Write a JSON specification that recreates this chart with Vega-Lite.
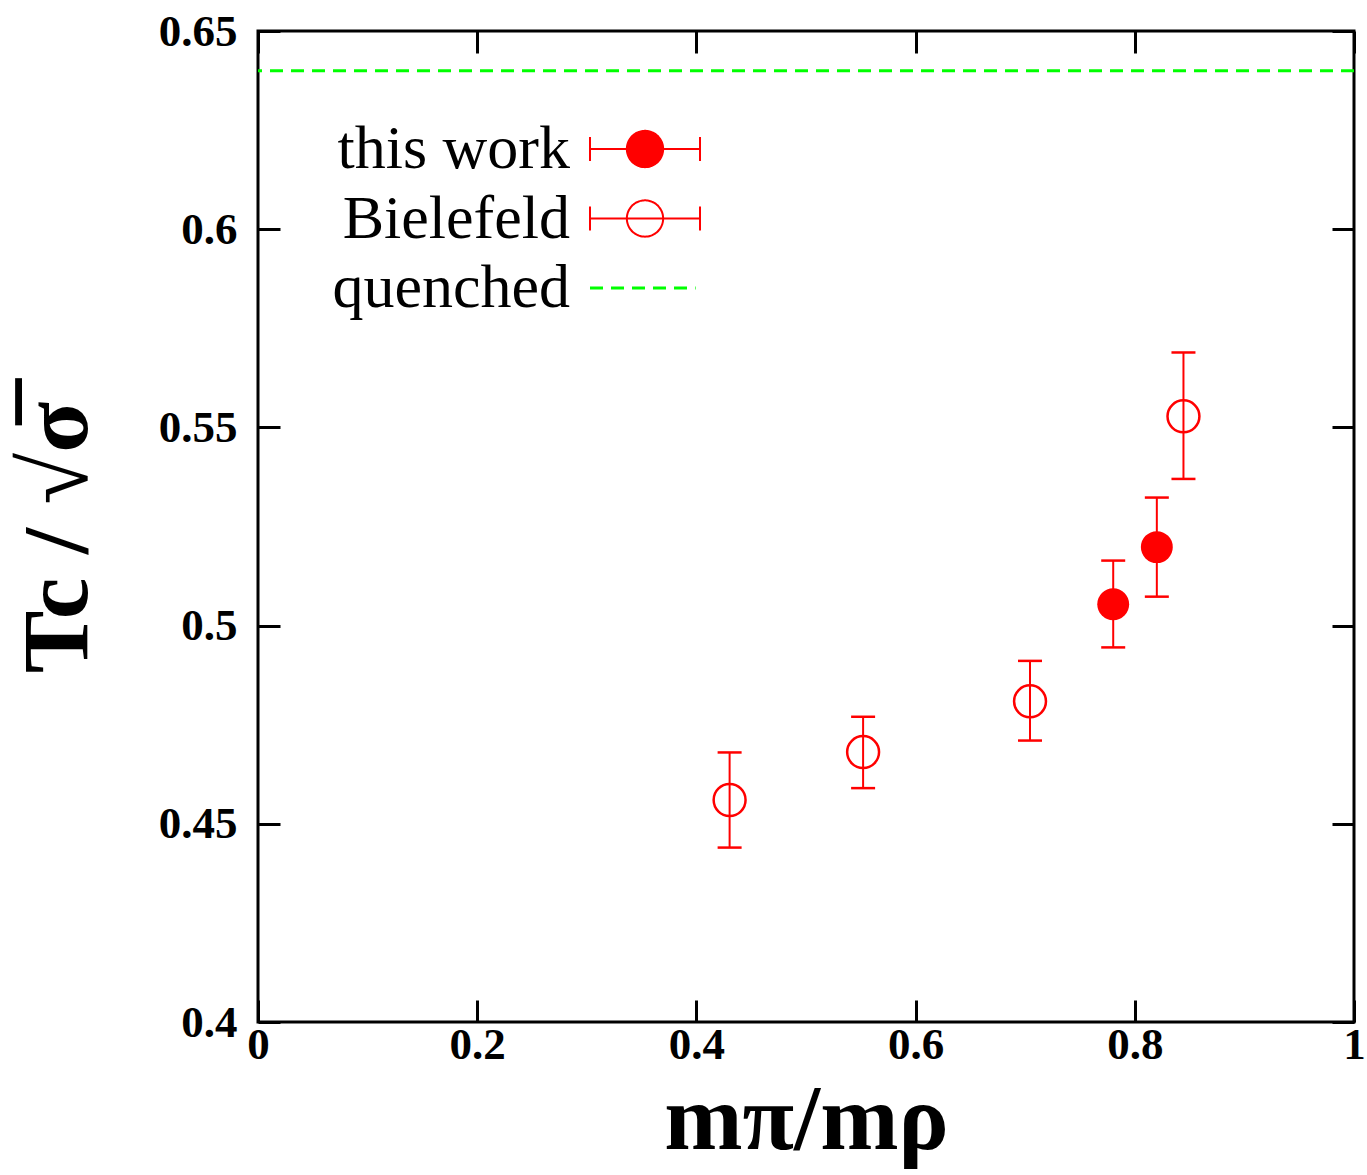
{
  "$schema": "https://vega.github.io/schema/vega-lite/v6.json",
  "autosize": "none",
  "width": 1096,
  "height": 991,
  "padding": {"left": 258, "top": 31, "right": 13, "bottom": 153},
  "background": "white",
  "config": {
    "view": {"stroke": "black", "strokeWidth": 3},
    "axis": {
      "grid": false,
      "domain": false,
      "tickColor": "black",
      "tickWidth": 3,
      "tickSize": -22,
      "labelFlush": false,
      "labelFont": "Liberation Serif",
      "labelFontWeight": "bold",
      "labelFontSize": 45,
      "labelColor": "black",
      "titleFont": "Liberation Serif",
      "titleFontWeight": "bold",
      "titleFontSize": 94,
      "titleColor": "black"
    }
  },
  "datasets": {
    "points": [
      {"series": "this work", "x": 0.7803, "y": 0.5054, "lo": 0.4945, "hi": 0.5164},
      {"series": "this work", "x": 0.8201, "y": 0.5198, "lo": 0.5073, "hi": 0.5323},
      {"series": "Bielefeld", "x": 0.4303, "y": 0.4560, "lo": 0.4440, "hi": 0.4680},
      {"series": "Bielefeld", "x": 0.5521, "y": 0.4681, "lo": 0.4590, "hi": 0.4770},
      {"series": "Bielefeld", "x": 0.7044, "y": 0.4809, "lo": 0.4710, "hi": 0.4911},
      {"series": "Bielefeld", "x": 0.8444, "y": 0.5528, "lo": 0.5370, "hi": 0.5689}
    ],
    "quenched": [
      {"series": "quenched", "y": 0.64}
    ]
  },
  "layer": [
    {
      "data": {"name": "quenched"},
      "mark": {"type": "rule", "strokeWidth": 3, "strokeDash": [13, 8]},
      "encoding": {
        "y": {
          "field": "y", "type": "quantitative",
          "scale": {"domain": [0.4, 0.65], "nice": false, "zero": false},
          "axis": null
        },
        "color": {
          "field": "series", "type": "nominal",
          "scale": {"domain": ["this work", "Bielefeld", "quenched"], "range": ["#ff0000", "#ff0000", "#00ff00"]},
          "legend": {
            "orient": "none",
            "legendX": 356,
            "legendY": 87,
            "padding": 0,
            "title": null,
            "symbolSize": 12100,
            "rowPadding": 7.5,
            "labelAlign": "right",
            "labelOffset": -106,
            "labelFont": "Liberation Serif",
            "labelFontSize": 62,
            "labelColor": "black",
            "labelLimit": 0,
            "encode": {
              "symbols": {
                "update": {
                  "shape": {"signal": "datum.label === 'quenched' ? 'M-1,0L0.92,0' : 'M-1,0L1,0M-1,-0.22L-1,0.22M1,-0.22L1,0.22M-0.33,0A0.33,0.33 0 1,1 0.33,0A0.33,0.33 0 1,1 -0.33,0Z'"},
                  "fill": {"signal": "datum.label === 'this work' ? '#ff0000' : 'transparent'"},
                  "fillOpacity": {"signal": "datum.label === 'this work' ? 1 : 0"},
                  "stroke": {"signal": "datum.label === 'quenched' ? '#00ff00' : '#ff0000'"},
                  "strokeDash": {"signal": "datum.label === 'quenched' ? [13, 8] : [1, 0]"},
                  "strokeWidth": {"signal": "datum.label === 'quenched' ? 3 : 2"},
                  "opacity": {"value": 1}
                }
              }
            }
          }
        }
      }
    },
    {
      "data": {"name": "points"},
      "mark": {"type": "rule", "strokeWidth": 2},
      "encoding": {
        "x": {
          "field": "x", "type": "quantitative",
          "scale": {"domain": [0, 1], "nice": false, "zero": false},
          "axis": null
        },
        "y": {"field": "lo", "type": "quantitative", "axis": null},
        "y2": {"field": "hi"},
        "color": {"field": "series", "type": "nominal"}
      }
    },
    {
      "data": {"name": "points"},
      "mark": {"type": "tick", "orient": "horizontal", "size": 24, "thickness": 2.5, "opacity": 1},
      "encoding": {
        "x": {"field": "x", "type": "quantitative", "axis": null},
        "y": {"field": "lo", "type": "quantitative", "axis": null},
        "color": {"field": "series", "type": "nominal"}
      }
    },
    {
      "data": {"name": "points"},
      "mark": {"type": "tick", "orient": "horizontal", "size": 24, "thickness": 2.5, "opacity": 1},
      "encoding": {
        "x": {"field": "x", "type": "quantitative", "axis": null},
        "y": {"field": "hi", "type": "quantitative", "axis": null},
        "color": {"field": "series", "type": "nominal"}
      }
    },
    {
      "data": {"name": "points"},
      "transform": [{"filter": "datum.series === 'Bielefeld'"}],
      "mark": {"type": "point", "shape": "circle", "size": 1018, "strokeWidth": 2.5, "filled": false, "opacity": 1},
      "encoding": {
        "x": {
          "field": "x", "type": "quantitative",
          "axis": {"orient": "top", "labels": false, "title": null, "values": [0, 0.2, 0.4, 0.6, 0.8, 1]}
        },
        "y": {
          "field": "y", "type": "quantitative",
          "axis": {"orient": "right", "labels": false, "title": null, "values": [0.4, 0.45, 0.5, 0.55, 0.6, 0.65]}
        },
        "color": {"field": "series", "type": "nominal"}
      }
    },
    {
      "data": {"name": "points"},
      "transform": [{"filter": "datum.series === 'this work'"}],
      "mark": {"type": "point", "shape": "circle", "size": 1018, "filled": true, "opacity": 1},
      "encoding": {
        "x": {
          "field": "x", "type": "quantitative",
          "axis": {"orient": "bottom", "values": [0, 0.2, 0.4, 0.6, 0.8, 1], "format": "~g", "labelPadding": 22, "title": "mπ/mρ", "titlePadding": 7}
        },
        "y": {
          "field": "y", "type": "quantitative",
          "axis": {"orient": "left", "values": [0.4, 0.45, 0.5, 0.55, 0.6, 0.65], "format": "~g", "labelPadding": 43, "title": "Tc / √σ̅", "titlePadding": 52, "titleY": 506}
        },
        "color": {"field": "series", "type": "nominal"}
      }
    }
  ],
  "resolve": {"axis": {"x": "independent", "y": "independent"}}
}
